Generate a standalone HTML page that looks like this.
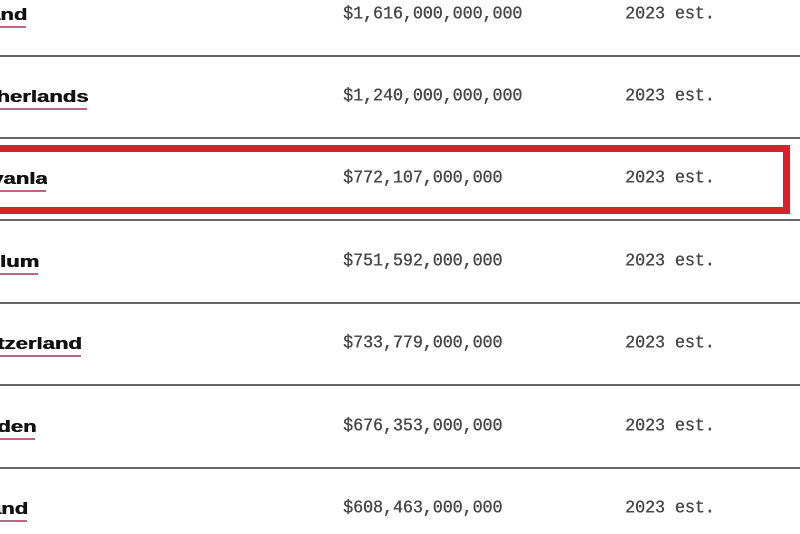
<!DOCTYPE html>
<html><head><meta charset="utf-8"><style>
html,body{margin:0;padding:0;background:#fff;}
body{width:800px;height:534px;position:relative;overflow:hidden;}
.line{position:absolute;left:0;width:800px;height:2px;background:#4a4a4a;opacity:.85;}
.clip{position:absolute;left:0;height:22px;overflow:hidden;}
.name{position:absolute;right:0;top:0;white-space:nowrap;font-family:"Liberation Sans",Arial,sans-serif;font-weight:bold;font-size:16.5px;color:#111;transform:scaleX(1.34);transform-origin:right bottom;line-height:16px;text-shadow:0.5px 0 0 #111;}
.ul{position:absolute;left:0;height:2px;background:#b9687f;}
.mono{position:absolute;white-space:nowrap;font-family:"Liberation Mono","DejaVu Sans Mono",monospace;font-size:16.6px;color:#474747;line-height:16px;transform:scaleY(1.12);transform-origin:left bottom;text-shadow:0.4px 0 0 #474747;}
.box{position:absolute;left:-20px;top:145px;width:796px;height:55px;border:7px solid #d9212e;}
</style></head><body>
<div class="line" style="top:55px"></div>
<div class="line" style="top:137px"></div>
<div class="line" style="top:219px"></div>
<div class="line" style="top:302px"></div>
<div class="line" style="top:384px"></div>
<div class="line" style="top:467px"></div>

<div class="box"></div>

<!-- row 1 -->
<div class="clip" style="top:7px;width:27px"><div class="name">Ireland</div></div>
<div class="ul" style="top:26px;width:26px"></div>
<div class="mono" style="left:343px;top:7px">$1,616,000,000,000</div>
<div class="mono" style="left:625px;top:7px">2023 est.</div>

<!-- row 2 -->
<div class="clip" style="top:89px;width:88px"><div class="name">Netherlands</div></div>
<div class="ul" style="top:108px;width:87px"></div>
<div class="mono" style="left:343px;top:89px">$1,240,000,000,000</div>
<div class="mono" style="left:625px;top:89px">2023 est.</div>

<!-- row 3 -->
<div class="clip" style="top:171px;width:47px"><div class="name">Pennsylvanla</div></div>
<div class="ul" style="top:190px;width:46px"></div>
<div class="mono" style="left:343px;top:171px">$772,107,000,000</div>
<div class="mono" style="left:625px;top:171px">2023 est.</div>

<!-- row 4 -->
<div class="clip" style="top:254px;width:39px"><div class="name">Belglum</div></div>
<div class="ul" style="top:273px;width:38px"></div>
<div class="mono" style="left:343px;top:254px">$751,592,000,000</div>
<div class="mono" style="left:625px;top:254px">2023 est.</div>

<!-- row 5 -->
<div class="clip" style="top:336px;width:82px"><div class="name">Switzerland</div></div>
<div class="ul" style="top:355px;width:81px"></div>
<div class="mono" style="left:343px;top:336px">$733,779,000,000</div>
<div class="mono" style="left:625px;top:336px">2023 est.</div>

<!-- row 6 -->
<div class="clip" style="top:419px;width:36px"><div class="name">Sweden</div></div>
<div class="ul" style="top:438px;width:35px"></div>
<div class="mono" style="left:343px;top:419px">$676,353,000,000</div>
<div class="mono" style="left:625px;top:419px">2023 est.</div>

<!-- row 7 -->
<div class="clip" style="top:501px;width:28px"><div class="name">Poland</div></div>
<div class="ul" style="top:520px;width:27px"></div>
<div class="mono" style="left:343px;top:501px">$608,463,000,000</div>
<div class="mono" style="left:625px;top:501px">2023 est.</div>
</body></html>
